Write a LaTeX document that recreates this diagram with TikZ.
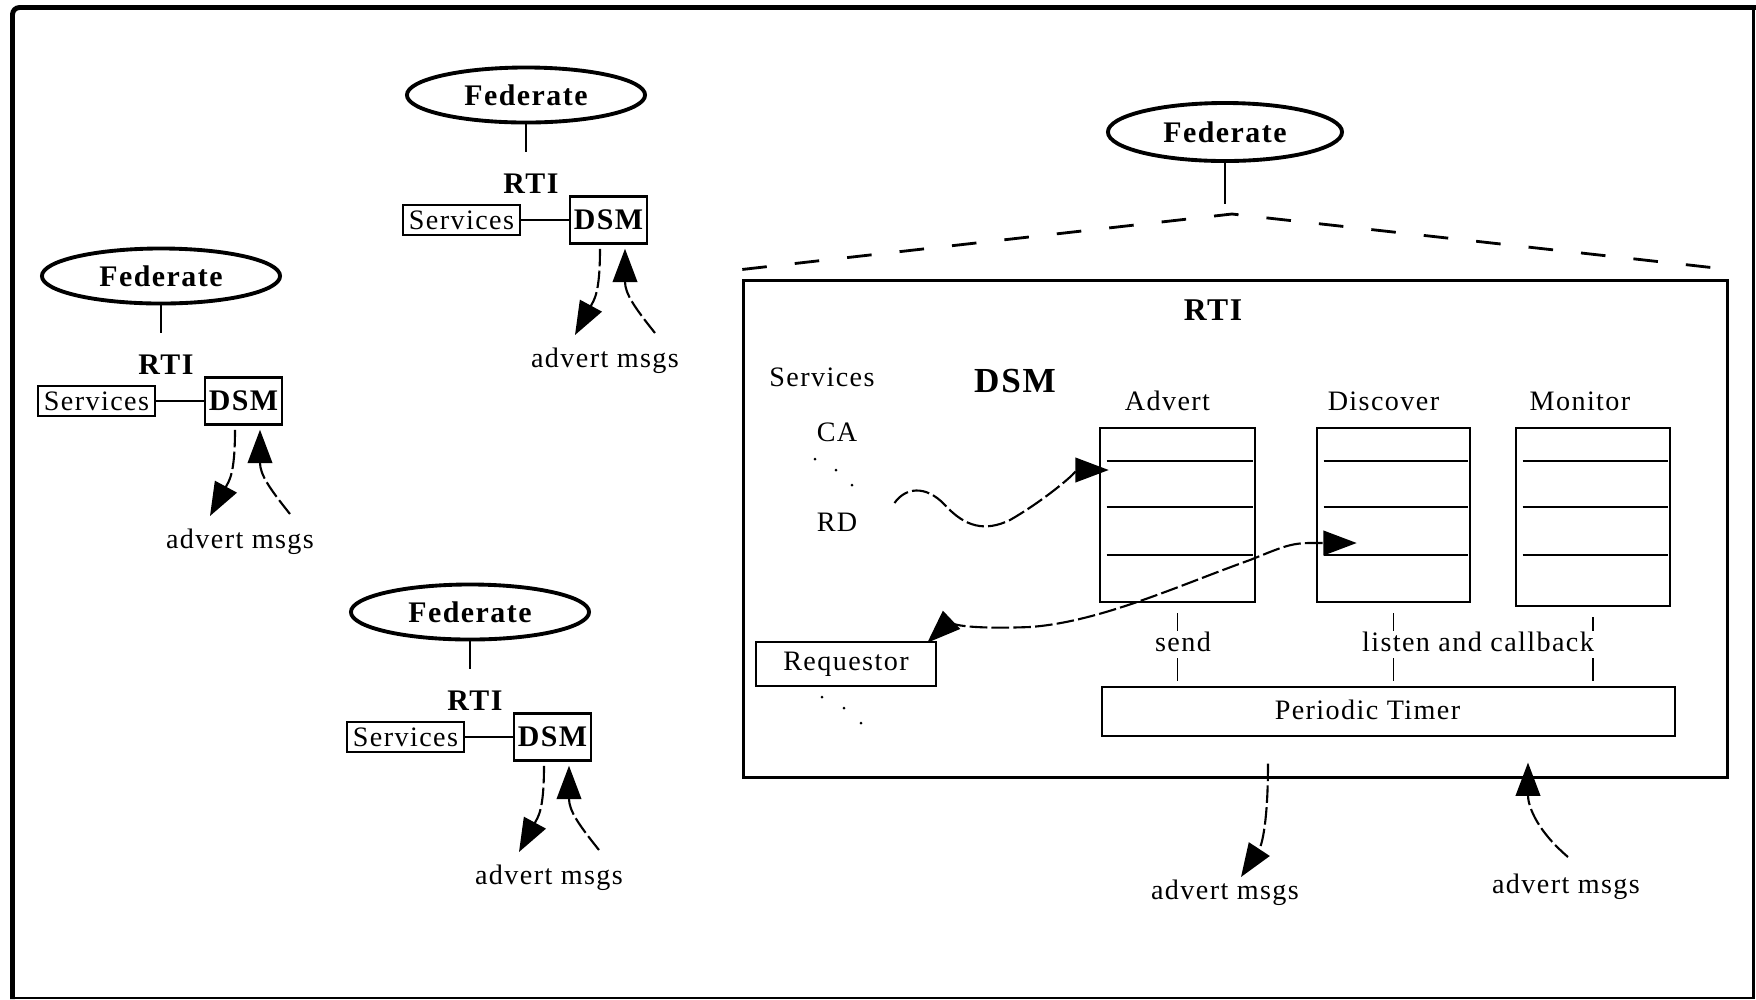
\documentclass[tikz,border=0pt]{standalone}
\usepackage{fontspec}
\setmainfont{Liberation Serif}[LetterSpace=5]
\usetikzlibrary{positioning,shapes.geometric,arrows.meta,calc}

\begin{document}
\begin{tikzpicture}[x=0.01cm,y=-0.01cm,
	every node/.style={font=\fontsize{8}{9.5}\selectfont,inner sep=1pt},
	bld/.style={font=\fontsize{8.5}{10}\selectfont\bfseries},
	fed/.style={ellipse,draw,line width=1.1pt,minimum width=2.38cm,minimum height=0.55cm,inner sep=0pt,bld},
	box/.style={draw,line width=0.7pt,inner sep=0pt},
	thin/.style={line width=0.45pt},
	bigtri/.tip={Triangle[length=9.5pt,width=7pt]},
	msg/.style={line width=0.6pt,dash pattern=on 5pt off 1.2pt,-bigtri},
	dot/.style={circle,fill,inner sep=0pt,minimum size=0.03cm}]
	\useasboundingbox (0,0) rectangle (1756,999);
	% khung ngoai
	\draw[line width=1.4pt,rounded corners=2pt] (12.5,999) -- (12.5,7.5) -- (1756,7.5);
	\draw[line width=0.7pt] (1753.5,7.5) -- (1753.5,998) -- (12.5,998);
	
	% ba federate nho
	\foreach \g/\px/\py in {A/526/95, B/161/276, C/470/612}{
		\begin{scope}[shift={(\px,\py)}]
			\node[fed] (fed\g) at (0,0) {Federate};
			\node[bld] (rti\g) at (5,89) {RTI};
			\node[box,minimum width=1.17cm,minimum height=0.30cm] (svc\g) at (-64.5,125) {Services};
			\node[box,minimum width=0.77cm,minimum height=0.47cm,bld] (dsm\g) at (82.5,125) {DSM};
			\node (msg\g) at (79,266) {advert msgs};
			\draw[thin,shorten >=0.18cm] (fed\g.south) -- (fed\g.south |- rti\g.north);
			\draw[thin] (svc\g) -- (dsm\g);
			\draw[msg] ($(dsm\g.south)+(-8.5,4)$) .. controls +(0,45) and +(19,-35) .. ($(msg\g)+(-30,-26)$);
			\draw[msg] ($(msg\g)+(50,-28)$) .. controls +(-20,-25) and +(0,45) .. ($(dsm\g.south)+(16.5,4)$);
		\end{scope}
	}
	
	% federate lon va RTI
	\node[fed,minimum width=2.34cm,minimum height=0.58cm] (fedD) at (1225,132) {Federate};
	\coordinate (apex) at (1232,214);
	\node[box,line width=0.8pt,minimum width=9.83cm,minimum height=4.96cm] (rti) at (1235.5,529) {};
	\draw[thin,shorten >=0.1cm] (fedD.south) -- (fedD.south |- apex);
	\draw[line width=0.8pt,dash pattern=on 7pt off 8pt] ([yshift=0.1cm]rti.north west) -- (apex) -- ([yshift=0.1cm]rti.north east);
	\node[bld,font=\fontsize{9}{10}\selectfont\bfseries] at (1213,310) {RTI};
	
	\node (svcD) at (822,377) {Services};
	\node[font=\fontsize{10}{11}\selectfont\bfseries] (dsmD) at (1015,381) {DSM};
	\node (ca) at (837,432) {CA};
	\node (rd) at (837,522) {RD};
	\node[dot] at (815,459) {};
	\node[dot] at (836,470) {};
	\node[dot] at (852,485) {};
	
	\node[box,minimum width=1.55cm,minimum height=1.74cm] (adv) at (1177.5,515) {};
	\node[box,minimum width=1.53cm,minimum height=1.74cm] (dis) at (1393.5,515) {};
	\node[box,minimum width=1.54cm,minimum height=1.78cm] (mon) at (1593,517) {};
	\node[above=0.12cm of adv,xshift=-0.1cm] {Advert};
	\node[above=0.12cm of dis,xshift=-0.1cm] {Discover};
	\node[above=0.12cm of mon,xshift=-0.13cm] {Monitor};
	\foreach \b in {adv,dis,mon}
		\foreach \dy in {34,80,128}
			\draw[thin] ($(\b.north west)+(8,\dy)$) -- ($(\b.north east)+(-3,\dy)$);
	
	\node[box,minimum width=5.73cm,minimum height=0.49cm] (timer) at (1388.5,711.5) {};
	\node at ($(timer)+(-21,-2)$) {Periodic Timer};
	\node (send) at (1183,642) {send};
	\node (lcb) at (1478,642) {listen and callback};
	\draw[thin,shorten <=0.1cm,shorten >=-0.03cm] (adv.south) -- (adv.south |- send.north);
	\draw[thin,shorten <=0.02cm,shorten >=0.05cm] (adv.south |- send.south) -- (adv.south |- timer.north);
	\foreach \b in {dis,mon}{
		\draw[thin,shorten <=0.1cm,shorten >=-0.03cm] (\b.south) -- (\b.south |- lcb.north);
		\draw[thin,shorten <=0.02cm,shorten >=0.05cm] (\b.south |- lcb.south) -- (\b.south |- timer.north);
	}
	
	\node[box,minimum width=1.8cm,minimum height=0.44cm] (req) at (846,664) {Requestor};
	\node[dot] at (822,697) {};
	\node[dot] at (844,708) {};
	\node[dot] at (861,723) {};
	
	% cac mui ten cong
	\draw[msg] ($(rd.east)+(33,-19)$) .. controls (905,488) and (925,484) .. (945,505)
		.. controls (965,527) and (985,532) .. (1010,520)
		.. controls (1045,500) and (1080,470) .. ($(adv.west)+(10,-45)$);
	\draw[msg,bigtri-bigtri] ($(req.north east)+(-10,2)$) .. controls (945,626) and (980,629) .. (1030,627)
		.. controls (1100,622) and (1180,585) .. (1250,560)
		.. controls (1280,548) and (1290,543) .. (1310,543) -- ($(dis.west)+(41,28)$);
	
	\node (msgE) at (1225,893) {advert msgs};
	\node (msgF) at (1566,887) {advert msgs};
	\draw[msg] ($(rti.south)+(32.5,-15)$) .. controls +(0,58) and +(21,-32) .. ($(msgE)+(16,-16)$);
	\draw[msg] ($(msgF)+(2,-30)$) .. controls +(-35,-30) and +(0,40) .. ($(rti.south)+(292.5,-16)$);
\end{tikzpicture}
\end{document}
